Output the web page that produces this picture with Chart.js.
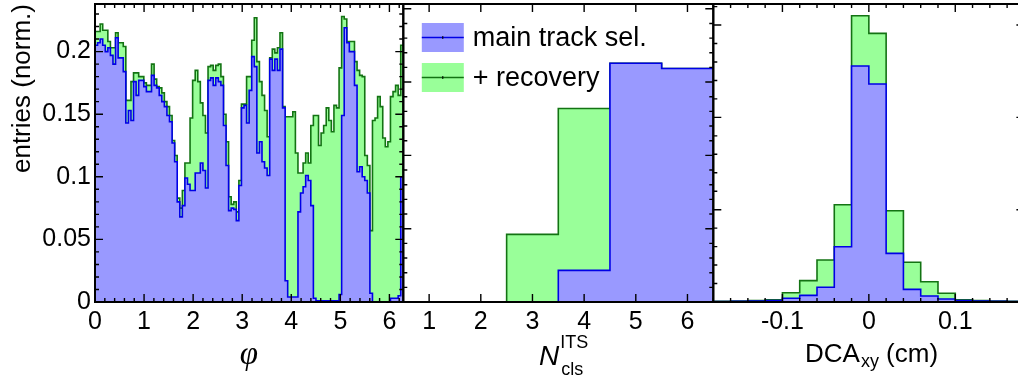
<!DOCTYPE html>
<html>
<head>
<meta charset="utf-8">
<script src="https://cdn.jsdelivr.net/npm/chart.js@4"></script>
<style>
  html, body { margin: 0; padding: 0; background: #fff; }
  #wrap { position: relative; width: 1018px; height: 380px; overflow: hidden; }
  #wrap canvas { position: absolute; left: 0; top: 0; }
</style>
</head>
<body>
<div id="wrap">
  <canvas id="phiChart" width="1018" height="380"></canvas>
  <canvas id="itsChart" width="1018" height="380"></canvas>
  <canvas id="dcaChart" width="1040" height="380"></canvas>
</div>
<script>
// phi: 120 bins from 0 to 2 pi
const phiMain = [
  0.205, 0.207, 0.210, 0.205, 0.200, 0.203, 0.197, 0.190, 0.211, 0.195,
  0.195, 0.184, 0.143, 0.153, 0.145, 0.176, 0.165, 0.177, 0.177, 0.172,
  0.168, 0.168, 0.181, 0.173, 0.171, 0.165, 0.160, 0.156, 0.149, 0.144,
  0.127, 0.112, 0.080, 0.068, 0.077, 0.099, 0.094, 0.089, 0.089, 0.103,
  0.103, 0.111, 0.105, 0.091, 0.177, 0.179, 0.173, 0.179, 0.176, 0.173,
  0.141, 0.109, 0.073, 0.075, 0.074, 0.065, 0.093, 0.155, 0.157, 0.143,
  0.169, 0.196, 0.188, 0.119, 0.128, 0.112, 0.107, 0.101, 0.194, 0.185,
  0.194, 0.185, 0.202, 0.155, 0.017, 0.004, 0.004, 0.004, 0.004, 0.072,
  0.087, 0.092, 0.101, 0.097, 0.077, 0.003, 0.001, 0.001, 0.001, 0.001,
  0.001, 0.001, 0.001, 0.001, 0.001, 0.006, 0.149, 0.219, 0.207, 0.200,
  0.200, 0.173, 0.104, 0.108, 0.100, 0.097, 0.087, 0.007, 0.000, 0.000,
  0.000, 0.000, 0.000, 0.000, 0.000, 0.003, 0.003, 0.003, 0.005, 0.100
];
const phiRecovery = [
  0.216, 0.216, 0.222, 0.217, 0.217, 0.208, 0.203, 0.203, 0.215, 0.207,
  0.207, 0.204, 0.161, 0.161, 0.176, 0.183, 0.183, 0.180, 0.180, 0.175,
  0.173, 0.173, 0.190, 0.178, 0.172, 0.171, 0.167, 0.160, 0.156, 0.149,
  0.129, 0.117, 0.083, 0.075, 0.089, 0.111, 0.111, 0.147, 0.177, 0.185,
  0.176, 0.159, 0.149, 0.135, 0.188, 0.189, 0.185, 0.189, 0.190, 0.180,
  0.150, 0.128, 0.084, 0.078, 0.080, 0.072, 0.097, 0.158, 0.158, 0.180,
  0.180, 0.209, 0.227, 0.192, 0.176, 0.165, 0.153, 0.132, 0.195, 0.202,
  0.199, 0.203, 0.215, 0.156, 0.148, 0.148, 0.148, 0.152, 0.119, 0.103,
  0.103, 0.111, 0.119, 0.111, 0.141, 0.149, 0.149, 0.125, 0.135, 0.141,
  0.155, 0.145, 0.136, 0.157, 0.155, 0.187, 0.228, 0.226, 0.208, 0.208,
  0.208, 0.192, 0.185, 0.181, 0.180, 0.117, 0.109, 0.057, 0.145, 0.147,
  0.164, 0.156, 0.131, 0.124, 0.128, 0.164, 0.168, 0.173, 0.165, 0.205
];
const phiTicks = [0, 1, 2, 3, 4, 5, 6];
const phiTickLabels = ['0', '1', '2', '3', '4', '5', '6'];
const yTicks = [0, 0.05, 0.1, 0.15, 0.2];
const yTickLabels = ['0', '0.05', '0.1', '0.15', '0.2'];

// number of ITS clusters, one bin per value 1..6
const nclsMain = [0, 0, 0, 0.0432, 0.3256, 0.3186];
const nclsRecovery = [0, 0, 0.0923, 0.264, 0.3256, 0.3186];
const nclsTicks = [1, 2, 3, 4, 5, 6];
const nclsTickLabels = ['1', '2', '3', '4', '5', '6'];

// DCA xy, 18 bins from -0.18 to 0.18 cm
const dcaMain = [0.0005, 0.0007, 0.001, 0.0015, 0.004, 0.0072, 0.0159, 0.0599, 0.2556,
  0.2361, 0.0527, 0.0137, 0.0065, 0.0032, 0.0015, 0.001, 0.0007, 0.0005];
const dcaRecovery = [0.0008, 0.001, 0.0015, 0.0025, 0.0101, 0.0231, 0.0455, 0.1054, 0.310,
  0.291, 0.0989, 0.043, 0.022, 0.0094, 0.0025, 0.0015, 0.001, 0.0008];
const dcaTicks = [-0.1, 0, 0.1];
const dcaTickLabels = ['-0.1', '0', '0.1'];

const FONT = "'Liberation Sans', Arial, sans-serif";
const BLUE_LINE = '#0000e6';
const BLUE_FILL = '#9999ff';
const GREEN_LINE = '#137313';
const GREEN_FILL = '#99ff99';

function makeEdges(min, max, n) {
	const edges = [];
	for (let i = 0; i <= n; i++) edges.push(min + (max - min) * i / n);
	return edges;
}

// step histogram: one point per left bin edge, plus the last right edge
function histPoints(edges, values) {
	const pts = values.map((v, i) => ({ x: edges[i], y: v }));
	pts.push({ x: edges[edges.length - 1], y: values[values.length - 1] });
	return pts;
}

function histDatasets(edges, main, recovery) {
	const common = { stepped: true, fill: 'origin', pointRadius: 0, borderWidth: 1.6 };
	return [
		{ label: 'main track sel.', data: histPoints(edges, main), order: 1,
			borderColor: BLUE_LINE, backgroundColor: BLUE_FILL, ...common },
		{ label: '+ recovery', data: histPoints(edges, recovery), order: 2,
			borderColor: GREEN_LINE, backgroundColor: GREEN_FILL, ...common }
	];
}

function tickValues(min, max, minor, major) {
	const out = [];
	const step = minor || major;
	for (let k = Math.ceil(min / step - 1e-9); k * step <= max + 1e-9; k++) {
		const v = k * step;
		const r = v / major;
		out.push([v, Math.abs(r - Math.round(r)) < 1e-6]);
	}
	return out;
}

// ROOT-like frame with inward ticks on all four sides
function frameTicks(spec) {
	return {
		id: 'frameTicks',
		afterDraw(chart) {
			const { ctx, chartArea: a } = chart;
			const xs = chart.scales.x, ys = chart.scales.y;
			ctx.save();
			ctx.strokeStyle = '#000';
			ctx.lineWidth = 1.4;
			ctx.beginPath();
			tickValues(xs.min, xs.max, spec.xMinor, spec.xMajor).forEach(([v, major]) => {
				const px = xs.getPixelForValue(v);
				const len = major ? 8 : 4;
				ctx.moveTo(px, a.bottom); ctx.lineTo(px, a.bottom - len);
				ctx.moveTo(px, a.top); ctx.lineTo(px, a.top + len);
			});
			tickValues(ys.min, ys.max, spec.yMinor, spec.yMajor).forEach(([v, major]) => {
				const py = ys.getPixelForValue(v);
				const len = major ? 8 : 4;
				ctx.moveTo(a.left, py); ctx.lineTo(a.left + len, py);
				ctx.moveTo(a.right, py); ctx.lineTo(a.right - len, py);
			});
			ctx.stroke();
			ctx.lineWidth = 2;
			ctx.strokeRect(a.left, a.top, a.right - a.left, a.bottom - a.top);
			ctx.restore();
		}
	};
}

function textPlugin(draw) {
	return {
		id: 'texts',
		afterDraw(chart) {
			const ctx = chart.ctx;
			ctx.save();
			ctx.fillStyle = '#000';
			draw(ctx, chart);
			ctx.restore();
		}
	};
}

function xScale(min, max, ticks, labels) {
	return {
		type: 'linear', min, max,
		grid: { display: false, drawTicks: false },
		border: { display: false },
		afterBuildTicks: (s) => { s.ticks = ticks.map((v) => ({ value: v })); },
		afterFit: (s) => {
			s.height = 78;
			s.paddingLeft = 0; s.paddingRight = 0;
		},
		ticks: {
			autoSkip: false, maxRotation: 0, minRotation: 0, padding: 5, color: '#000',
			font: { family: FONT, size: 25 },
			callback: (v, i) => labels[i]
		}
	};
}

function hiddenY(max) {
	return {
		type: 'linear', min: 0, max, display: false,
		afterFit: (s) => { s.width = 0; s.paddingTop = 0; s.paddingBottom = 0; }
	};
}

function makeChart(id, edges, main, recovery, scales, padding, plugins) {
	return new Chart(document.getElementById(id), {
		type: 'line',
		data: { datasets: histDatasets(edges, main, recovery) },
		options: {
			responsive: false,
			animation: false,
			events: [],
			layout: { padding },
			plugins: { legend: { display: false }, tooltip: { enabled: false } },
			scales
		},
		plugins
	});
}

// phi panel
makeChart('phiChart', makeEdges(0, 2 * Math.PI, phiMain.length), phiMain, phiRecovery, {
	x: xScale(0, 2 * Math.PI, phiTicks, phiTickLabels),
	y: {
		type: 'linear', min: 0, max: 0.238,
		grid: { display: false, drawTicks: false },
		border: { display: false },
		afterBuildTicks: (s) => { s.ticks = yTicks.map((v) => ({ value: v })); },
		afterFit: (s) => { s.width = 95; s.paddingTop = 0; s.paddingBottom = 0; },
		ticks: {
			padding: 4, color: '#000', font: { family: FONT, size: 25 },
			callback: (v, i) => yTickLabels[i]
		}
	}
}, { left: 0, right: 614.7, top: 4, bottom: 0 }, [
	frameTicks({ xMinor: 0.2, xMajor: 1, yMinor: 0.01, yMajor: 0.05 }),
	textPlugin((ctx) => {
		ctx.font = `26px ${FONT}`;
		ctx.textAlign = 'right';
		ctx.textBaseline = 'alphabetic';
		ctx.translate(30, 4);
		ctx.rotate(-Math.PI / 2);
		ctx.fillText('entries (norm.)', 0, 0);
		ctx.setTransform(1, 0, 0, 1, 0, 0);
		ctx.font = "italic 33px 'Liberation Serif', serif";
		ctx.textAlign = 'center';
		ctx.fillText('φ', 249, 364);
	})
]);

// ITS clusters panel
makeChart('itsChart', makeEdges(0.5, 6.5, nclsMain.length), nclsMain, nclsRecovery, {
	x: xScale(0.5, 6.5, nclsTicks, nclsTickLabels),
	y: hiddenY(0.4065)
}, { left: 403.3, right: 304.7, top: 4, bottom: 0 }, [
	frameTicks({ xMinor: null, xMajor: 1, yMinor: 0.02, yMajor: 0.1 }),
	textPlugin((ctx, chart) => {
		const a = chart.chartArea;
		const entries = [[BLUE_FILL, BLUE_LINE, 'main track sel.'], [GREEN_FILL, GREEN_LINE, '+ recovery']];
		entries.forEach(([fill, line, text], i) => {
			const x = a.left + 18.5, y = a.top + 19 + i * 40, w = 42, h = 29;
			ctx.fillStyle = fill;
			ctx.fillRect(x, y, w, h);
			ctx.strokeStyle = line;
			ctx.lineWidth = 1.5;
			ctx.beginPath();
			ctx.moveTo(x, y + h / 2); ctx.lineTo(x + w, y + h / 2);
			ctx.stroke();
			ctx.strokeStyle = '#000';
			ctx.lineWidth = 1;
			ctx.beginPath();
			ctx.moveTo(x + w / 2, y + h / 2 - 1.5); ctx.lineTo(x + w / 2, y + h / 2 + 1.5);
			ctx.stroke();
			ctx.fillStyle = '#000';
			ctx.font = `27px ${FONT}`;
			ctx.textAlign = 'left';
			ctx.textBaseline = 'middle';
			ctx.fillText(text, x + w + 9, y + h / 2 + 1);
		});
		ctx.textBaseline = 'alphabetic';
		ctx.font = `italic 28px ${FONT}`;
		ctx.fillText('N', 539, 365);
		const nx = 539 + ctx.measureText('N').width + 1;
		ctx.font = `18px ${FONT}`;
		ctx.fillText('ITS', nx, 348);
		ctx.fillText('cls', nx + 1, 375);
	})
]);

// DCA panel
makeChart('dcaChart', makeEdges(-0.18, 0.18, dcaMain.length), dcaMain, dcaRecovery, {
	x: xScale(-0.18, 0.18, dcaTicks, dcaTickLabels),
	y: hiddenY(0.3228)
}, { left: 713.3, right: 15.6, top: 4, bottom: 0 }, [
	frameTicks({ xMinor: 0.02, xMajor: 0.1, yMinor: 0.02, yMajor: 0.1 }),
	textPlugin((ctx) => {
		ctx.textAlign = 'left';
		ctx.textBaseline = 'alphabetic';
		ctx.font = `26px ${FONT}`;
		ctx.fillText('DCA', 805, 362);
		let x = 805 + ctx.measureText('DCA').width + 1;
		ctx.font = `18px ${FONT}`;
		ctx.fillText('xy', x, 367);
		x += ctx.measureText('xy').width;
		ctx.font = `26px ${FONT}`;
		ctx.fillText(' (cm)', x, 362);
	})
]);
</script>
</body>
</html>
